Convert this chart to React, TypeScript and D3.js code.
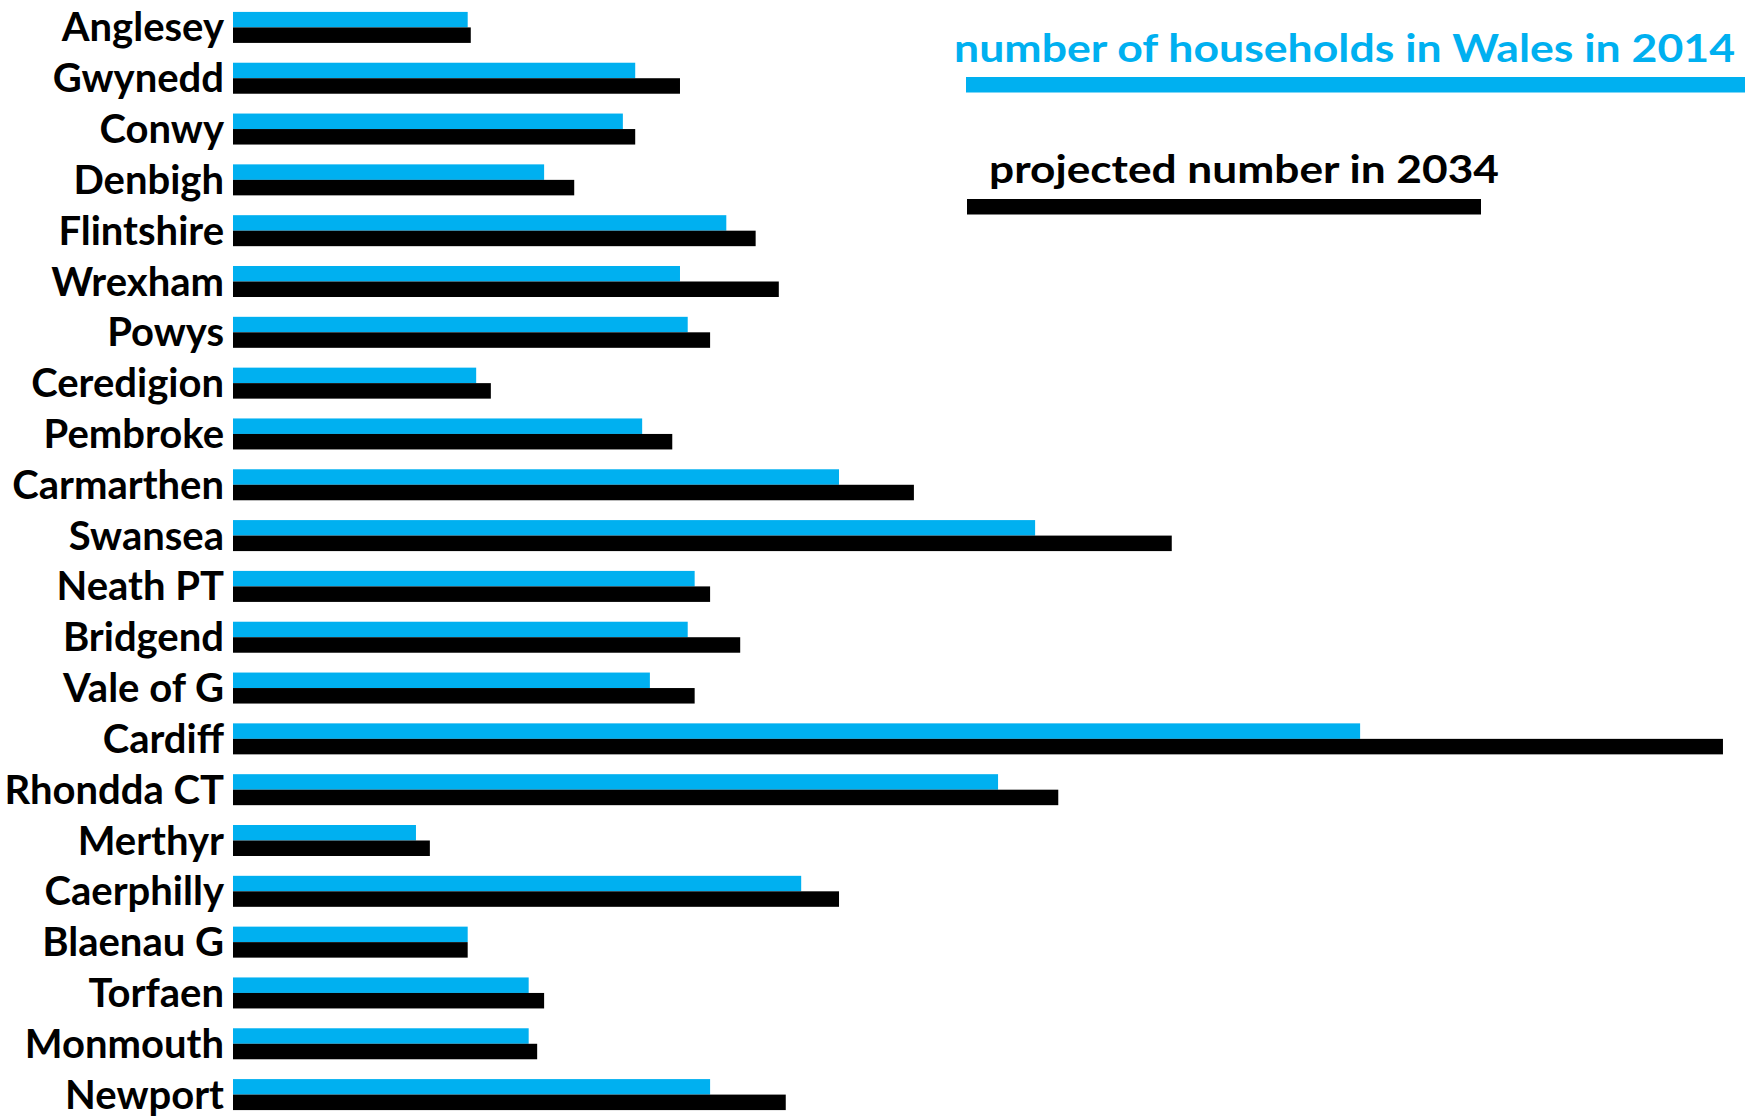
import React from "react";
import * as d3 from "d3";

const categories = [
  "Anglesey", "Gwynedd", "Conwy", "Denbigh", "Flintshire", "Wrexham", "Powys",
  "Ceredigion", "Pembroke", "Carmarthen", "Swansea", "Neath PT", "Bridgend",
  "Vale of G", "Cardiff", "Rhondda CT", "Merthyr", "Caerphilly", "Blaenau G",
  "Torfaen", "Monmouth", "Newport",
];

// households (thousands)
const households2014 = [
  30.4, 52.1, 50.5, 40.3, 63.9, 57.9, 58.9, 31.5, 53.0, 78.5, 103.9, 59.8, 58.9,
  54.0, 146.0, 99.1, 23.7, 73.6, 30.4, 38.3, 38.3, 61.8,
];
const households2034 = [
  30.8, 57.9, 52.1, 44.2, 67.7, 70.7, 61.8, 33.4, 56.9, 88.2, 121.6, 61.8, 65.7,
  59.8, 193.0, 106.9, 25.5, 78.5, 30.4, 40.3, 39.4, 71.6,
];

const seriesKeys = ["2014", "2034"];
const seriesColors = ["#00B0F0", "#000000"];
const legendLabels = ["number of households in Wales in 2014", "projected number in 2034"];

const W = 1752;
const H = 1118;
const FONT = "Lato, 'Open Sans', sans-serif";

export default function App() {
  const rows = categories.map((c, i) => ({
    name: c,
    values: [households2014[i], households2034[i]],
  }));

  const y = d3.scaleBand<string>()
    .domain(categories)
    .range([2, 1120])
    .paddingInner(0.39)
    .paddingOuter(0.195);

  const ySub = d3.scaleBand<string>()
    .domain(seriesKeys)
    .range([0, y.bandwidth()])
    .padding(0);

  const x = d3.scaleLinear().domain([0, 200]).range([233, 1777]);

  return (
    <svg
      width={W}
      height={H}
      style={{ position: "absolute", left: 0, top: 0, background: "#fff" }}
      fontFamily={FONT}
    >
      <rect x={0} y={0} width={W} height={H} fill="#fff" />
      {rows.map((r) => {
        const y0 = y(r.name) ?? 0;
        return (
          <g key={r.name}>
            {r.values.map((v, j) => (
              <rect
                key={j}
                x={x(0)}
                y={y0 + (ySub(seriesKeys[j]) ?? 0)}
                width={x(v) - x(0)}
                height={ySub.bandwidth()}
                fill={seriesColors[j]}
              />
            ))}
            <text
              x={224}
              y={y0 + y.bandwidth() / 2 + 14}
              textAnchor="end"
              fontSize={40}
              fontWeight={700}
              fill="#000"
            >
              {r.name}
            </text>
          </g>
        );
      })}

      {/* legend */}
      <text
        x={954}
        y={62}
        fontSize={37.5}
        fontWeight={700}
        fill={seriesColors[0]}
        textLength={781}
        lengthAdjust="spacingAndGlyphs"
      >
        {legendLabels[0]}
      </text>
      <rect x={966} y={77} width={1745 - 966} height={15.5} fill={seriesColors[0]} />
      <text
        x={989}
        y={183}
        fontSize={37.5}
        fontWeight={700}
        fill={seriesColors[1]}
        textLength={510}
        lengthAdjust="spacingAndGlyphs"
      >
        {legendLabels[1]}
      </text>
      <rect x={967} y={199} width={1481 - 967} height={15.5} fill={seriesColors[1]} />
    </svg>
  );
}
